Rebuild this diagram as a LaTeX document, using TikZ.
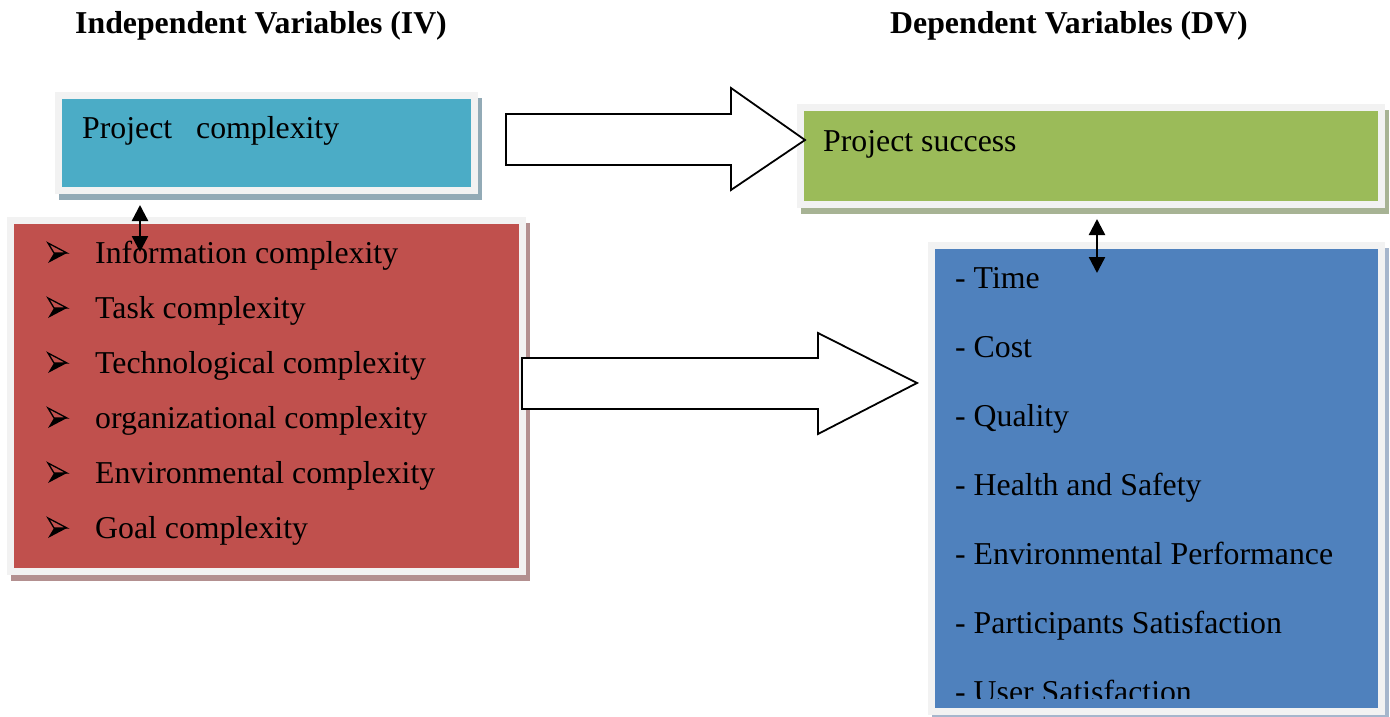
\documentclass[tikz,border=0pt]{standalone}
\usepackage{fontspec}
\setmainfont{Liberation Serif}
\usetikzlibrary{arrows.meta}

\definecolor{ivteal}{HTML}{4BACC6}
\definecolor{ivred}{HTML}{C0504D}
\definecolor{dvgreen}{HTML}{9BBB59}
\definecolor{dvblue}{HTML}{4F81BD}
\definecolor{framegray}{HTML}{F2F2F2}
\definecolor{tealshade}{HTML}{92AAB6}
\definecolor{redshade}{HTML}{B39090}
\definecolor{greenshade}{HTML}{A7B394}
\definecolor{blueshade}{HTML}{A6B6CC}

\begin{document}
\begin{tikzpicture}
  [x=1pt,y=-1pt,
   varbox/.style 2 args={rectangle,anchor=north west,inner sep=0pt,outer sep=0pt,
     fill=#1,draw=framegray,line width=7pt,
     preaction={fill=#2,draw=#2,transform canvas={shift={(4pt,-6pt)}}}},
   heading/.style={anchor=base west,inner sep=0pt,font=\fontsize{31.8}{38}\selectfont\bfseries},
   txt/.style={anchor=base west,inner sep=0pt,font=\fontsize{31.8}{38}\selectfont},
   dblarrow/.style={{Triangle[length=16pt,width=16pt]}-{Triangle[length=16pt,width=16pt]},line width=2.4pt},
   blockarrow/.style={draw=black,fill=white,line width=1.8pt,line join=miter}]
  \useasboundingbox[fill=white] (0,0) rectangle (1390,717);

  % headings
  \node[heading] (ivhead) at (75,34) {Independent Variables (IV)};
  \node[heading] (dvhead) at (890,34) {Dependent Variables (DV)};

  % boxes
  \node[varbox={ivteal}{tealshade},minimum width=416pt,minimum height=95pt] (ivbox) at (58.5,95.5) {};
  \node[varbox={ivred}{redshade},minimum width=512pt,minimum height=351pt] (facbox) at (10.5,220.5) {};
  \node[varbox={dvgreen}{greenshade},minimum width=581pt,minimum height=97pt] (dvbox) at (800.5,107.5) {};
  \node[varbox={dvblue}{blueshade},minimum width=450pt,minimum height=466pt] (critbox) at (931.5,245.5) {};

  \node[txt] (pc) at (82,138) {Project\ \ \ complexity};
  \node[txt] (ps) at (823,151) {Project success};

  \foreach \y/\name in {263/Information complexity,318/Task complexity,373/Technological complexity,
      428/organizational complexity,483/Environmental complexity,538/Goal complexity}
  {
    % arrowhead bullet
    \draw[line width=1.3pt,line join=miter] (48,\y-20) -- (67,\y-10) -- (54,\y-10) -- cycle;
    \fill (54,\y-10) -- (67,\y-10) -- (48,\y) -- cycle;
    \node[txt] (f\y) at (95,\y) {\name};
  }

  \begin{scope}
    \clip (935,249) rectangle (1378,698);
    \foreach \y/\name in {288/Time,357/Cost,426/Quality,495/Health and Safety,
        564/Environmental Performance,633/Participants Satisfaction,702/User Satisfaction}
      \node[txt] (c\y) at (955,\y) {- \name};
  \end{scope}

  % links
  \coordinate (ivtop) at (140,205);
  \coordinate (ivbot) at (140,252);
  \coordinate (dvtop) at (1097,219);
  \coordinate (dvbot) at (1097,273);
  \draw[dblarrow] (ivtop) -- (ivbot);
  \draw[dblarrow] (dvtop) -- (dvbot);

  \draw[blockarrow] (506,114) -- (731,114) -- (731,88) -- (805,140) -- (731,190) -- (731,165) -- (506,165) -- cycle;
  \draw[blockarrow] (522,358) -- (818,358) -- (818,333) -- (917,383) -- (818,434) -- (818,409) -- (522,409) -- cycle;
\end{tikzpicture}
\end{document}
